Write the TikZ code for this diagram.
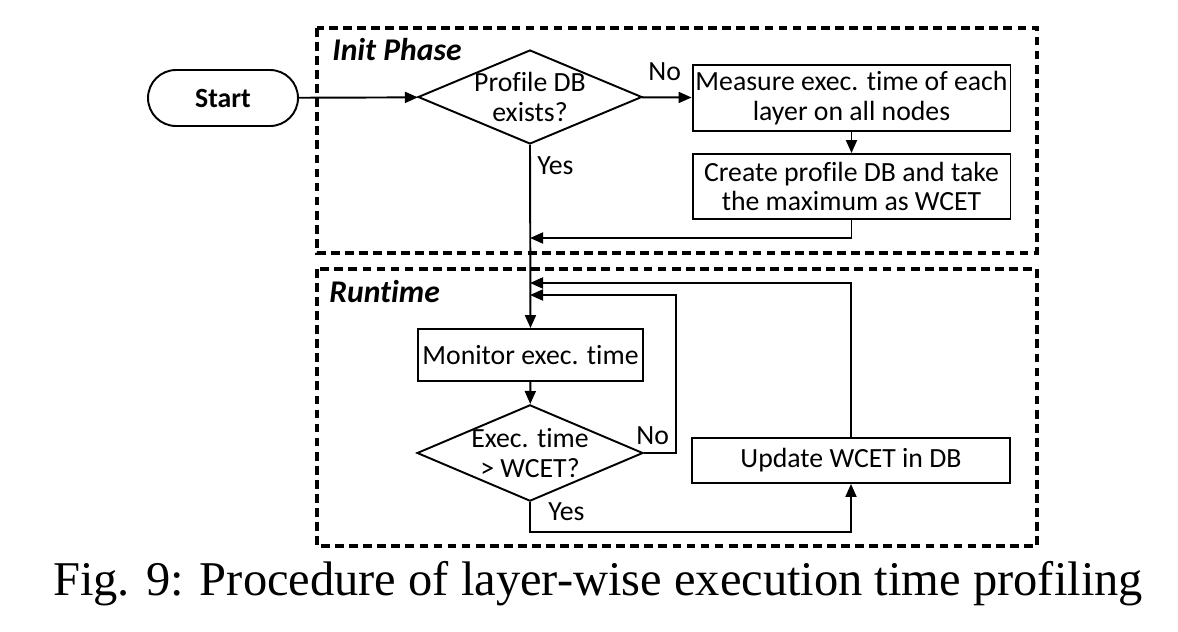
\documentclass[tikz,border=0pt]{standalone}
\usepackage{fontspec}
\setmainfont{Carlito}[Ligatures=NoCommon]
\newfontfamily\capfont{Liberation Serif}
\usetikzlibrary{shapes.geometric,arrows.meta}
\tikzset{
	flow/.style={line width=1.1pt,-{Triangle[length=0.26cm,width=0.22cm]}},
	phasebox/.style={draw,line width=2pt,dash pattern=on 5pt off 3pt},
	stepbox/.style={draw,line width=1.1pt,rectangle,inner sep=0pt,align=center},
	askbox/.style={draw,line width=1.1pt,diamond,inner xsep=-12pt,inner ysep=-8pt,align=center},
	note/.style={anchor=base west,inner sep=0pt},
	phasename/.style={anchor=base west,inner sep=0pt,font=\fontsize{18}{20}\selectfont\bfseries\itshape},
	every node/.style={font=\fontsize{15.8}{17}\selectfont}
}
\begin{document}
\begin{tikzpicture}[x=0.02cm,y=-0.02cm]
	\useasboundingbox (0,0) rectangle (1178,632);
	% phases
	\draw[phasebox] (317,28) rectangle (1037,253);
	\draw[phasebox] (317,269) rectangle (1037,546);
	\node (initname) at (332,60) [phasename]{Init Phase};
	\node (runname) at (329,302) [phasename]{Runtime};
	% init phase
	\node (start) at (223,98) [draw,line width=1.1pt,minimum width=3cm,minimum height=1.12cm,rounded corners=0.56cm,font=\fontsize{15.8}{17}\selectfont\bfseries]{Start};
	\node (dbask) at (530,97) [askbox,minimum width=4.48cm,minimum height=1.88cm]{Profile DB\\exists?};
	\node (measure) at (851.5,98) [stepbox,minimum width=6.36cm,minimum height=1.32cm]{Measure exec. time of each\\layer on all nodes};
	\node (create) at (851.5,186.5) [stepbox,minimum width=6.36cm,minimum height=1.3cm]{Create profile DB and take\\the maximum as WCET};
	% runtime
	\node (monitor) at (530.5,355) [stepbox,minimum width=4.5cm,minimum height=1.04cm]{Monitor exec. time};
	\node (check) at (530,453) [askbox,minimum width=4.52cm,minimum height=1.88cm]{Exec. time\\> WCET?};
	\node (update) at (851,460.5) [stepbox,minimum width=6.36cm,minimum height=0.9cm]{Update WCET in DB};
	\coordinate (initback) at (530,238);
	\coordinate (updback) at (530,283);
	\coordinate (noback) at (530,295);
	% connectors
	\draw[flow] (start) -- (dbask);
	\draw[flow] (dbask) -- (measure);
	\draw[flow] (measure) -- (create);
	\draw[flow] (create.south) |- (initback);
	\draw[flow] (dbask.south) -- (monitor.north);
	\draw[flow] (monitor) -- (check);
	\draw[flow] (check.east) -- ++(32,0) |- (noback);
	\draw[flow] (update.north) |- (updback);
	\draw[flow] (check.south) -- ++(0,30) -| (update.south);
	\node at (648,80) [note]{No};
	\node at (537,174) [note]{Yes};
	\node at (636,444) [note]{No};
	\node at (548,520) [note]{Yes};
	% caption
	\node (caption) at (598,595) [anchor=base,inner sep=0pt,font=\fontsize{27.6}{30}\selectfont\capfont]{Fig. 9: Procedure of layer-wise execution time profiling};
\end{tikzpicture}
\end{document}
